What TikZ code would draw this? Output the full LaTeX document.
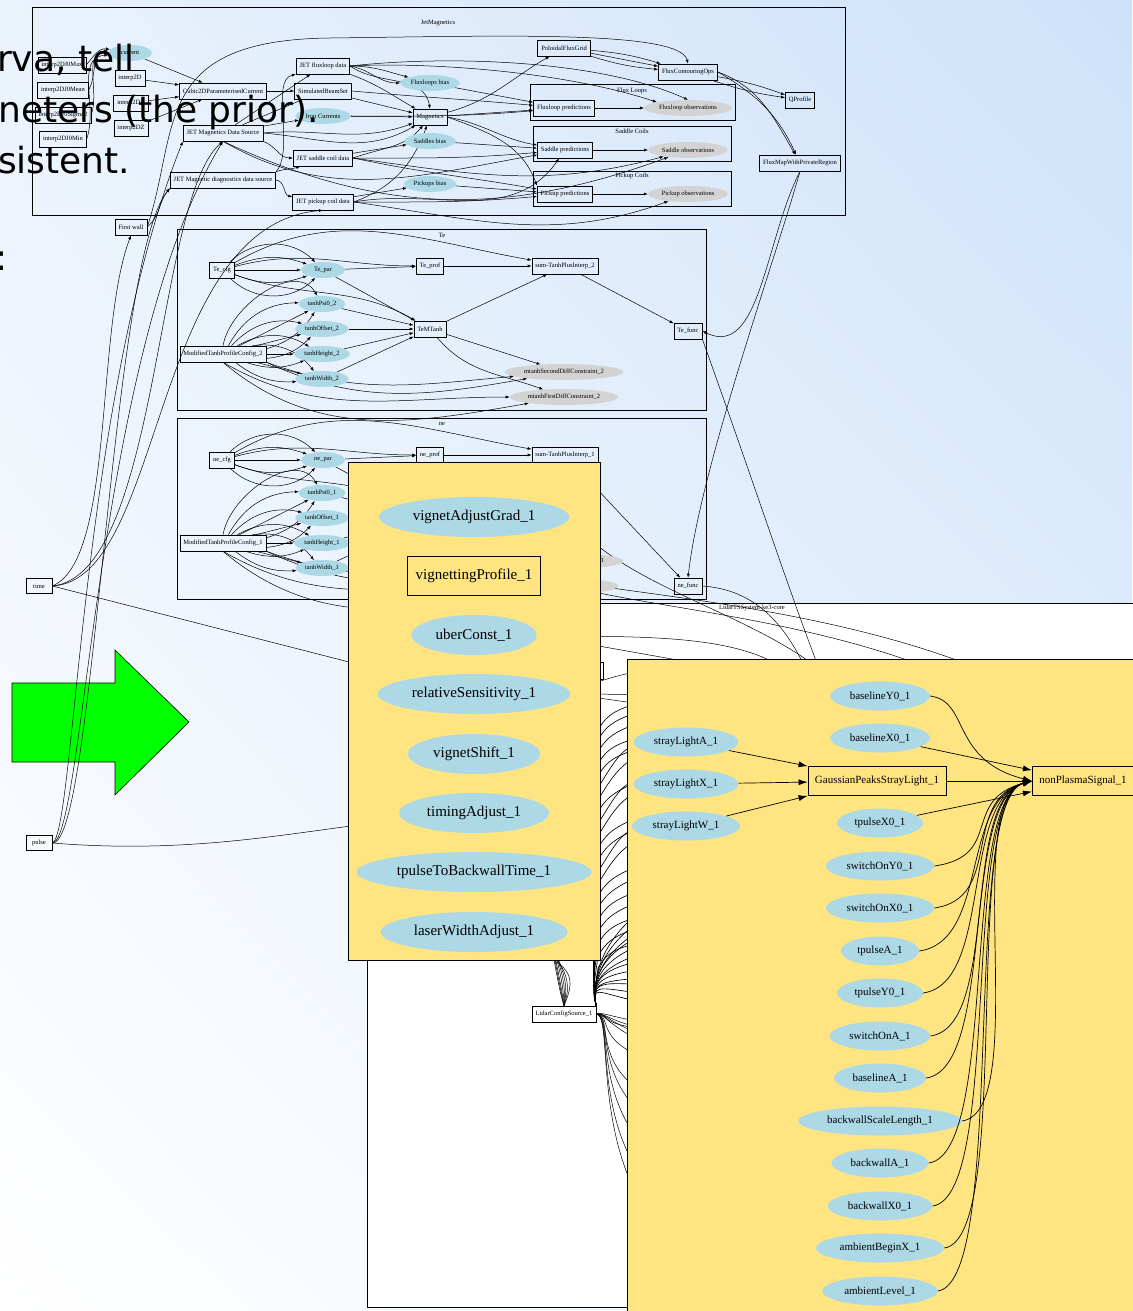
\documentclass[tikz,border=0pt]{standalone}
\usepackage{fontspec}
\setmainfont{Liberation Serif}
\newfontfamily\slidefam{DejaVu Sans}
\usepackage{tikz}
\usetikzlibrary{arrows.meta,shapes.geometric,shadings}
\definecolor{nodeblue}{RGB}{173,216,230}
\definecolor{obsgray}{RGB}{211,211,211}
\definecolor{panelyellow}{RGB}{255,228,130}
\definecolor{arrowgreen}{RGB}{0,255,0}
\definecolor{bgtl}{RGB}{234,242,252}
\definecolor{bgtr}{RGB}{205,226,250}
\definecolor{bgbr}{RGB}{236,244,253}
\newcommand{\grfont}{\fontsize{6.5}{7}\selectfont}
\newcommand{\pbfont}{\fontsize{15}{17}\selectfont}
\newcommand{\pmfont}{\fontsize{11}{13}\selectfont}
\newcommand{\slfont}{\slidefam\fontsize{36}{40}\selectfont}
\pgfdeclarelayer{back}
\pgfdeclarelayer{wires}
\pgfdeclarelayer{panel}
\pgfdeclarelayer{front}
\pgfsetlayers{back,wires,main,panel,front}
\tikzset{
  gbox/.style={draw=black, line width=0.6pt, font=\grfont, inner xsep=3.5pt, inner ysep=0pt, minimum height=16pt},
  gell/.style={ellipse, fill=nodeblue, font=\grfont, inner xsep=2pt, inner ysep=1pt, minimum height=16pt, minimum width=44pt},
  gobs/.style={gell, fill=obsgray},
  clus/.style={draw=black, line width=0.6pt},
  clab/.style={font=\grfont, inner sep=0pt},
  garr/.style={-{Latex[length=4pt,width=3pt]}, line width=0.5pt},
  fanarr/.style={garr, line width=0.65pt},
  pell/.style={ellipse, fill=nodeblue, font=\pbfont, inner xsep=6pt, inner ysep=7pt, minimum height=40pt},
  pbox/.style={draw=black, line width=0.8pt, font=\pbfont, inner xsep=8pt, minimum height=39pt},
  rell/.style={ellipse, fill=nodeblue, font=\pmfont, inner xsep=5pt, inner ysep=5pt, minimum height=29pt},
  rbox/.style={draw=black, line width=0.8pt, font=\pmfont, inner xsep=7pt, minimum height=29pt},
  parr/.style={-{Latex[length=9pt,width=6pt]}, line width=0.7pt},
  panelbg/.style={draw=black, line width=0.8pt, fill=panelyellow},
  slide/.style={font=\slfont, inner sep=0pt, anchor=base west}
}

\begin{document}
\begin{tikzpicture}[x=1pt,y=1pt]
\useasboundingbox (0,0) rectangle (1132,-1311);

\begin{pgfonlayer}{back}
\shade[upper left=bgtl, upper right=bgtr, lower left=white, lower right=bgbr] (0,0) rectangle (1132,-1311);
\draw[line width=0.6pt, fill=arrowgreen] (12,-683) -- (115,-683) -- (115,-650) -- (189,-722) -- (115,-795) -- (115,-762) -- (12,-762) -- cycle;
\draw[clus] (32,-7) rectangle (845,-215);
\draw[clus] (530,-84) rectangle (735,-120);
\draw[clus] (533,-126) rectangle (731,-161);
\draw[clus] (533,-171) rectangle (731,-206);
\draw[clus] (177,-229) rectangle (706,-410);
\draw[clus] (177,-418) rectangle (706,-599);
\draw[clus, fill=white] (367,-603) rectangle (1140,-1307);
\end{pgfonlayer}

\node[clab] (lbjet) at (438,-23) {JetMagnetics};
\node[clab] (lbfl) at (632,-91) {Flux Loops};
\node[clab] (lbsa) at (632,-131) {Saddle Coils};
\node[clab] (lbpu) at (632,-176) {Pickup Coils};
\node[clab] (lbte) at (442,-235) {Te};
\node[clab] (lbne) at (442,-424) {ne};
\node[clab] (lblid) at (752,-608) {LidarTSSystem-ke3-core};

\node[gell] (cur) at (130,-53) {current};
\node[gbox] (jmax) at (62,-65) {interp2DJ0Max};
\node[gbox] (jmean) at (63,-90) {interp2DJ0Mean};
\node[gbox] (i2d) at (130,-78) {interp2D};
\node[gbox] (i2dr) at (131,-103) {interp2DR};
\node[gbox] (jsig) at (63,-115) {interp2DJ0Sigma2};
\node[gbox] (i2dz) at (131,-128) {interp2DZ};
\node[gbox] (jmin) at (63,-139) {interp2DJ0Min};
\node[gbox] (cubic) at (223,-91) {Cubic2DParameterisedCurrent};
\node[gbox] (mdsrc) at (223,-133) {JET Magnetics Data Source};
\node[gbox] (diagsrc) at (223,-180) {JET Magnetic diagnostics data source};
\node[gbox] (fldata) at (323,-66) {JET fluxloop data};
\node[gbox] (beams) at (323,-91) {SimulatedBeamSet};
\node[gell] (ironc) at (323,-116) {Iron Currents};
\node[gbox] (sadata) at (323,-158) {JET saddle coil data};
\node[gbox] (pudata) at (323,-202) {JET pickup coil data};
\node[gell] (flbias) at (430,-83) {Fluxloops bias};
\node[gbox] (magn) at (430,-117) {Magnetics};
\node[gell] (sabias) at (430,-141) {Saddles bias};
\node[gell] (pubias) at (430,-184) {Pickups bias};
\node[gbox] (pfg) at (564,-48) {PoloidalFluxGrid};
\node[gbox] (fco) at (688,-72) {FluxContouringOps};
\node[gbox] (qprof) at (800,-100) {QProfile};
\node[gbox] (fmap) at (800,-163) {FluxMapWithPrivateRegion};
\node[gbox] (flpred) at (564,-108) {Fluxloop predictions};
\node[gobs] (flobs) at (688,-108) {Fluxloop observations};
\node[gbox] (sapred) at (565,-150) {Saddle predictions};
\node[gobs] (saobs) at (688,-150) {Saddle observations};
\node[gbox] (pupred) at (565,-194) {Pickup predictions};
\node[gobs] (puobs) at (688,-194) {Pickup observations};

\node[gbox] (fwall) at (131,-227) {First wall};
\node[gbox, minimum width=26pt, minimum height=15pt] (time) at (39,-586) {time};
\node[gbox, minimum width=26pt, minimum height=15pt] (pulse) at (39,-843) {pulse};

\node[gbox] (cfg2) at (222,-270) {Te\_cfg};
\node[gell] (par2) at (323,-270) {Te\_par};
\node[gbox] (prof2) at (430,-266) {Te\_prof};
\node[gbox] (sum2) at (565,-266) {sum-TanhPlusInterp\_2};
\node[gell] (psi2) at (322,-304) {tanhPsi0\_2};
\node[gell] (off2) at (322,-329) {tanhOffset\_2};
\node[gell] (hgt2) at (322,-354) {tanhHeight\_2};
\node[gell] (wid2) at (322,-379) {tanhWidth\_2};
\node[gbox] (mod2) at (223,-354) {ModifiedTanhProfileConfig\_2};
\node[gbox] (mt2) at (430,-329) {TeMTanh};
\node[gbox] (func2) at (688,-331) {Te\_func};
\node[gobs] (msd2) at (564,-372) {mtanhSecondDiffConstraint\_2};
\node[gobs] (mfd2) at (564,-397) {mtanhFirstDiffConstraint\_2};

\node[gbox] (cfg1) at (222,-460) {ne\_cfg};
\node[gell] (par1) at (323,-460) {ne\_par};
\node[gbox] (prof1) at (430,-455) {ne\_prof};
\node[gbox] (sum1) at (565,-455) {sum-TanhPlusInterp\_1};
\node[gell] (psi1) at (322,-493) {tanhPsi0\_1};
\node[gell] (off1) at (322,-518) {tanhOffset\_1};
\node[gell] (hgt1) at (322,-543) {tanhHeight\_1};
\node[gell] (wid1) at (322,-568) {tanhWidth\_1};
\node[gbox] (mod1) at (223,-543) {ModifiedTanhProfileConfig\_1};
\node[gbox] (mt1) at (430,-518) {neMTanh};
\node[gbox] (func1) at (688,-586) {ne\_func};
\node[gobs] (msd1) at (564,-561) {mtanhSecondDiffConstraint\_1};
\node[gobs] (mfd1) at (564,-586) {mtanhFirstDiffConstraint\_1};

\node[gbox, minimum width=30pt, minimum height=17pt] (lbox) at (588,-671) {};
\node[gbox] (lcs) at (564,-1014) {LidarConfigSource\_1};

\begin{pgfonlayer}{panel}
\draw[panelbg] (348,-462) rectangle (600,-960);
\draw[panelbg] (627,-659) rectangle (1140,-1320);
\end{pgfonlayer}

\begin{pgfonlayer}{front}
\node[pell] (vag) at (474,-517) {vignetAdjustGrad\_1};
\node[pbox] (vprof) at (474,-576) {vignettingProfile\_1};
\node[pell] (ubc) at (474,-635) {uberConst\_1};
\node[pell] (rsens) at (474,-694) {relativeSensitivity\_1};
\node[pell] (vshift) at (474,-754) {vignetShift\_1};
\node[pell] (tadj) at (474,-813) {timingAdjust\_1};
\node[pell] (tpbt) at (474,-872) {tpulseToBackwallTime\_1};
\node[pell] (lwa) at (474,-932) {laserWidthAdjust\_1};

\node[rell] (bY0) at (880,-696) {baselineY0\_1};
\node[rell] (bX0) at (880,-738) {baselineX0\_1};
\node[rell] (slA) at (686,-742) {strayLightA\_1};
\node[rell] (slX) at (686,-784) {strayLightX\_1};
\node[rell] (slW) at (686,-826) {strayLightW\_1};
\node[rbox] (gps) at (877,-781) {GaussianPeaksStrayLight\_1};
\node[rbox] (nps) at (1083,-781) {nonPlasmaSignal\_1};
\node[rell] (tX0) at (880,-823) {tpulseX0\_1};
\node[rell] (sY0) at (880,-866) {switchOnY0\_1};
\node[rell] (sX0) at (880,-908) {switchOnX0\_1};
\node[rell] (tA) at (880,-951) {tpulseA\_1};
\node[rell] (tY0) at (880,-993) {tpulseY0\_1};
\node[rell] (sA) at (880,-1036) {switchOnA\_1};
\node[rell] (bA) at (880,-1078) {baselineA\_1};
\node[rell] (bwsl) at (880,-1121) {backwallScaleLength\_1};
\node[rell] (bwA) at (880,-1163) {backwallA\_1};
\node[rell] (bwX0) at (880,-1206) {backwallX0\_1};
\node[rell] (aBX) at (880,-1248) {ambientBeginX\_1};
\node[rell] (aL) at (880,-1291) {ambientLevel\_1};

\draw[parr] (slA) -- (gps.north west);
\draw[parr] (slX) -- (gps);
\draw[parr] (slW) -- (gps.south west);
\draw[parr] (gps) -- (nps);
\draw[parr] (bY0.east) .. controls +(40,-5) and (950,-760) .. (nps.west);
\draw[parr] (bX0) -- (nps);
\draw[parr] (tX0) -- (nps);
\foreach \t in {sY0,sX0,tA,tY0,sA,bA,bwsl,bwA,bwX0,aBX,aL}
  \draw[parr] (\t.east) .. controls +(70,10) and (960,-800) .. (nps.west);

\node[slide] (st1) at (-3,-72) {rva, tell};
\node[slide] (st2) at (-2,-123) {neters (the prior).};
\node[slide] (st3) at (-2,-173) {sistent.};
\node[slide] (st4) at (-5,-270) {:};
\end{pgfonlayer}

\begin{pgfonlayer}{wires}
\draw[garr] (jmax.east) to[out=50,in=170] (cur);
\draw[garr] (jmean.east) to[out=60,in=175] (cur);
\draw[garr] (jsig.east) to[out=70,in=180] (cur);
\draw[garr] (jmin.east) to[out=70,in=185] (cur);
\draw[garr] (cur) -- (cubic);
\draw[garr] (i2d) -- (cubic);
\draw[garr] (i2dr) -- (cubic);
\draw[garr] (i2dz) -- (cubic);
\draw[garr] (cubic) -- (beams);
\draw[garr] (mdsrc) -- (fldata);
\draw[garr] (mdsrc) -- (beams);
\draw[garr] (mdsrc) -- (ironc);
\draw[garr] (mdsrc.east) to[out=5,in=200] (magn);
\draw[garr] (mdsrc.east) to[out=-5,in=210] (magn);
\draw[garr] (mdsrc.south east) to[out=-20,in=180] (sadata);
\draw[garr] (mdsrc.south) to[out=-25,in=200] (saobs);
\draw[garr] (mdsrc.south) to[out=-30,in=190] (sapred);
\draw[garr] (diagsrc.north east) .. controls (295,-150) and (270,-80) .. (fldata.south west);
\draw[garr] (diagsrc.north east) to[out=20,in=200] (sadata);
\draw[garr] (diagsrc.east) to[out=-5,in=170] (pudata);
\draw[garr] (fldata.east) to[out=0,in=165] (flbias);
\draw[garr] (fldata.east) to[out=-10,in=180] (flbias);
\draw[garr] (fldata.south east) to[out=-20,in=150] (magn);
\draw[garr] (fldata.east) to[out=-35,in=100] (magn.north);
\draw[garr] (fldata.east) .. controls (450,-55) and (600,-60) .. (flobs.north);
\draw[garr] (fldata.east) .. controls (420,-62) and (560,-70) .. (flobs.north west);
\draw[garr] (beams) -- (magn);
\draw[garr] (beams.east) to[out=-5,in=175] (flpred);
\draw[garr] (ironc) -- (magn);
\draw[garr] (ironc.east) to[out=0,in=185] (flpred);
\draw[garr] (sadata) -- (sabias);
\draw[garr] (sadata.east) to[out=20,in=230] (magn);
\draw[garr] (sadata.east) to[out=0,in=185] (sapred);
\draw[garr] (sadata.east) to[out=-8,in=195] (saobs);
\draw[garr] (sadata.east) to[out=-12,in=170] (pupred);
\draw[garr] (pudata) -- (pubias);
\draw[garr] (pudata.east) to[out=20,in=250] (magn);
\draw[garr] (pudata.east) to[out=0,in=185] (pupred);
\draw[garr] (pudata.east) to[out=-8,in=200] (puobs);
\draw[garr] (pudata.east) to[out=10,in=235] (sapred);
\draw[garr] (flbias) -- (flpred);
\draw[garr] (sabias) -- (sapred);
\draw[garr] (pubias) -- (pupred);
\draw[garr] (magn) to[out=15,in=210] (pfg);
\draw[garr] (magn) -- (flpred);
\draw[garr] (magn.east) to[out=-10,in=170] (sapred);
\draw[garr] (magn.east) to[out=-20,in=110] (pupred.north west);
\draw[garr] (flpred) -- (flobs);
\draw[garr] (sapred) -- (saobs);
\draw[garr] (pupred) -- (puobs);
\draw[garr] (pfg) to[bend left=6] (fco);
\draw[garr] (pfg) -- (fco);
\draw[garr] (pfg) to[bend right=6] (fco);
\draw[garr] (fco) to[bend left=5] (qprof);
\draw[garr] (fco) to[bend right=5] (qprof);
\draw[garr] (fco.east) to[out=-20,in=120] (fmap);
\draw[garr] (fco.east) to[out=-30,in=115] (fmap);
\draw[garr] (fwall.east) .. controls (180,-130) and (150,-40) .. (330,-38) .. controls (500,-36) and (680,-30) .. (fco.north);
\draw[garr] (fwall.east) to[out=40,in=230] (diagsrc.south west);

\draw[garr] (time.east) .. controls (115,-560) and (95,-330) .. (fwall.south);
\draw[garr] (time.east) .. controls (165,-580) and (150,-225) .. (pudata.south);
\draw[garr] (time.east) .. controls (160,-575) and (155,-200) .. (mdsrc.south);
\draw[garr] (time.east) -- (rsens);
\draw[garr] (pulse.east) .. controls (75,-835) and (80,-400) .. (mdsrc.south west);
\draw[garr] (pulse.east) .. controls (85,-840) and (95,-350) .. (mdsrc.south);
\draw[garr] (pulse.east) .. controls (95,-845) and (110,-260) .. (diagsrc.south west);
\draw[garr] (pulse.east) .. controls (200,-855) and (300,-830) .. (tadj);

\foreach \s in {1,2} {
  \draw[garr] (cfg\s) to[bend left=45] (par\s);
  \draw[garr] (cfg\s) to[bend left=20] (par\s);
  \draw[garr] (cfg\s) -- (par\s);
  \draw[garr] (cfg\s) to[bend right=20] (par\s);
  \draw[garr] (cfg\s) to[bend right=45] (par\s);
  \draw[garr] (cfg\s) to[out=15,in=180] (prof\s);
  \draw[garr] (cfg\s) to[out=30,in=170] (sum\s);
  \draw[garr] (cfg\s) to[out=-20,in=150] (mt\s);
  \draw[garr] (par\s) -- (prof\s);
  \draw[garr] (par\s) -- (mt\s);
  \draw[garr] (prof\s) -- (sum\s);
  \draw[garr] (mt\s) -- (sum\s);
  \draw[garr] (sum\s) -- (func\s);
  \foreach \p in {psi,off,hgt,wid} {
    \draw[garr] (\p\s) -- (mt\s);
    \draw[garr] (mod\s) to[bend left=30] (\p\s);
    \draw[garr] (mod\s) -- (\p\s);
    \draw[garr] (mod\s) to[bend right=20] (\p\s);
  }
  \draw[garr] (mod\s.north) to[out=80,in=120] (psi\s);
  \draw[garr] (mod\s.south east) to[out=-20,in=185] (msd\s);
  \draw[garr] (mod\s.south east) to[out=-25,in=190] (msd\s);
  \draw[garr] (mod\s.south) to[out=-30,in=180] (mfd\s);
  \draw[garr] (mod\s.south) to[out=-40,in=190] (mfd\s);
  \draw[garr] (mt\s) -- (msd\s);
  \draw[garr] (mt\s) to[out=-50,in=160] (mfd\s);
}

\draw[garr] (fmap.south) .. controls (765,-240) and (760,-360) .. (func2.east);
\draw[garr] (fmap.south) .. controls (775,-260) and (700,-470) .. (func1.north);
\draw[garr] (func2.south east) .. controls (760,-500) and (795,-610) .. (bY0.west);
\draw[garr] (func1.east) .. controls (760,-590) and (800,-630) .. (bX0.west);
\draw[garr] (vprof.east) .. controls (620,-615) and (940,-612) .. (nps.north);
\draw[garr] (vag.east) .. controls (640,-612) and (860,-625) .. (gps.north);
\draw[garr] (ubc.east) .. controls (650,-640) and (850,-620) .. (gps.north west);
\draw[garr] (rsens.east) .. controls (650,-650) and (860,-640) .. (nps.north west);
\draw[garr] (vprof.east) .. controls (640,-600) and (980,-610) .. (nps.north east);
\draw[garr] (ubc.east) -- (bY0);
\draw[garr] (rsens.east) -- (bY0);
\draw[garr] (rsens.east) -- (bX0);

\foreach \t/\c in {bY0/690,bY0/700,bY0/712,bX0/724,bX0/736,slA/748,slA/760,bX0/772,slX/784,slX/796,gps/808,gps/820,slW/832,slW/844,tX0/856,tX0/868,sY0/880,sY0/892,sX0/904,sX0/916,tA/928}
  \draw[fanarr] (lcs.north east) .. controls (592,-990) and (594,-\c-70) .. (598,-\c-40) .. controls (610,-\c-20) and (622,-\c) .. (\t);
\foreach \t/\ty in {sY0/866,sX0/908,tA/951,tY0/993} {
  \foreach \k in {0,20,40} {
    \draw[fanarr] (lcs.north east) .. controls (588,-965) and (618,-\ty-\k) .. (\t);
  }
}
\foreach \t/\c in {sA/1036,bA/1078,bwsl/1121,bwA/1163,bwX0/1206,aBX/1248,aL/1291}
  \draw[garr] (lcs.east) .. controls (622,-1014) and (560,-\c) .. (\t.west);
\foreach \t/\c in {sA/1030,bA/1050,sA/1045,bA/1065}
  \draw[garr] (lcs.east) .. controls (610,-1010) and (615,-\c) .. (\t);
\foreach \t/\x in {vag/556,ubc/560,rsens/563,vshift/566,tadj/569,tpbt/572,lwa/575,vprof/558}
  \draw[garr] (lcs.north) .. controls (\x,-980) and (\x,-965) .. (\t);
\end{pgfonlayer}
\end{tikzpicture}
\end{document}
